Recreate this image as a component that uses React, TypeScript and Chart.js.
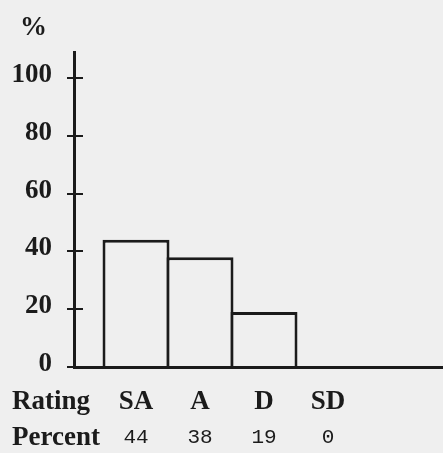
import React, { useEffect, useRef } from 'react';
import { Chart, registerables } from 'chart.js';

Chart.register(...registerables);

const ratings = ['SA', 'A', 'D', 'SD'];
const percents = [44, 38, 19, 0];
const positions = [1, 2, 3, 4];
const yTicks = [0, 20, 40, 60, 80, 100];

const INK = '#1b1b1b';
const BG = '#efefef';
const SERIF = '"Liberation Serif", "Times New Roman", serif';
const MONO = '"Liberation Mono", "Courier New", monospace';

export default function App() {
  const ref = useRef<HTMLCanvasElement>(null);

  useEffect(() => {
    if (!ref.current) return;

    const crossTicks = {
      id: 'crossTicks',
      afterDatasetsDraw(chart: any) {
        const y = chart.scales.y;
        const ctx = chart.ctx;
        ctx.save();
        ctx.strokeStyle = INK;
        ctx.lineWidth = 2;
        y.ticks.forEach((t: any) => {
          const py = Math.round(y.getPixelForValue(t.value));
          ctx.beginPath();
          ctx.moveTo(y.right, py);
          ctx.lineTo(y.right + 9, py);
          ctx.stroke();
        });
        ctx.restore();
      },
    };

    const headers = {
      id: 'headers',
      afterDraw(chart: any) {
        const ctx = chart.ctx;
        const x = chart.scales.x;
        const x2 = chart.scales.x2;
        ctx.save();
        ctx.fillStyle = INK;
        ctx.font = `bold 27px ${SERIF}`;
        ctx.textAlign = 'left';
        ctx.textBaseline = 'middle';
        ctx.fillText('Rating', 12, x.top + 19 + (27 * 1.2) / 2);
        ctx.fillText('Percent', 12, x2.top + 8 + (21 * 1.2) / 2);
        ctx.textBaseline = 'alphabetic';
        ctx.fillText('%', 20, 35);
        ctx.restore();
      },
    };

    const xMin = 0.031;
    const xMax = 5.797;

    const chart = new Chart(ref.current, {
      type: 'bar',
      data: {
        datasets: [
          {
            data: positions.map((p, i) => ({ x: p, y: percents[i] })),
            backgroundColor: BG,
            borderColor: INK,
            borderWidth: 3,
            barPercentage: 67 / 64,
            categoryPercentage: 1,
            borderSkipped: 'start',
          } as any,
        ],
      },
      options: {
        responsive: false,
        animation: false,
        layout: { padding: { top: 52, left: 0, right: 0, bottom: 0 } },
        plugins: { legend: { display: false }, tooltip: { enabled: false } },
        scales: {
          x: {
            type: 'linear',
            position: 'bottom',
            offset: false,
            min: xMin,
            max: xMax,
            grid: { display: false, drawTicks: false },
            border: { display: true, color: INK, width: 3 },
            afterBuildTicks: (s: any) => {
              s.ticks = positions.map((v) => ({ value: v }));
            },
            afterFit: (s: any) => {
              s.height = 50;
            },
            ticks: {
              autoSkip: false,
              maxRotation: 0,
              padding: 19,
              color: INK,
              font: { family: SERIF, size: 27, weight: 'bold' },
              callback: (v: any) => {
                const i = positions.indexOf(Number(v));
                return i >= 0 ? ratings[i] : '';
              },
            },
          },
          x2: {
            type: 'linear',
            position: 'bottom',
            offset: false,
            min: xMin,
            max: xMax,
            grid: { display: false, drawTicks: false },
            border: { display: false },
            afterBuildTicks: (s: any) => {
              s.ticks = positions.map((v) => ({ value: v }));
            },
            afterFit: (s: any) => {
              s.height = 36;
            },
            ticks: {
              autoSkip: false,
              maxRotation: 0,
              padding: 8,
              color: INK,
              font: { family: MONO, size: 21 },
              callback: (v: any) => {
                const i = positions.indexOf(Number(v));
                return i >= 0 ? String(percents[i]) : '';
              },
            },
          },
          y: {
            type: 'linear',
            min: 0,
            max: 109,
            afterBuildTicks: (s: any) => {
              s.ticks = yTicks.map((v) => ({ value: v }));
            },
            afterFit: (s: any) => {
              s.width = 74;
            },
            grid: {
              display: true,
              drawOnChartArea: false,
              drawTicks: true,
              tickLength: 7,
              color: INK,
              lineWidth: 2,
            },
            border: { display: true, color: INK, width: 3 },
            ticks: {
              padding: 15,
              labelOffset: -3,
              color: INK,
              font: { family: SERIF, size: 27, weight: 'bold' },
            },
          },
        },
      } as any,
      plugins: [crossTicks, headers],
    });

    return () => chart.destroy();
  }, []);

  return (
    <div
      style={{
        position: 'absolute',
        left: 0,
        top: 0,
        width: 443,
        height: 453,
        background: BG,
      }}
    >
      <canvas ref={ref} width={443} height={453} style={{ display: 'block' }} />
    </div>
  );
}
